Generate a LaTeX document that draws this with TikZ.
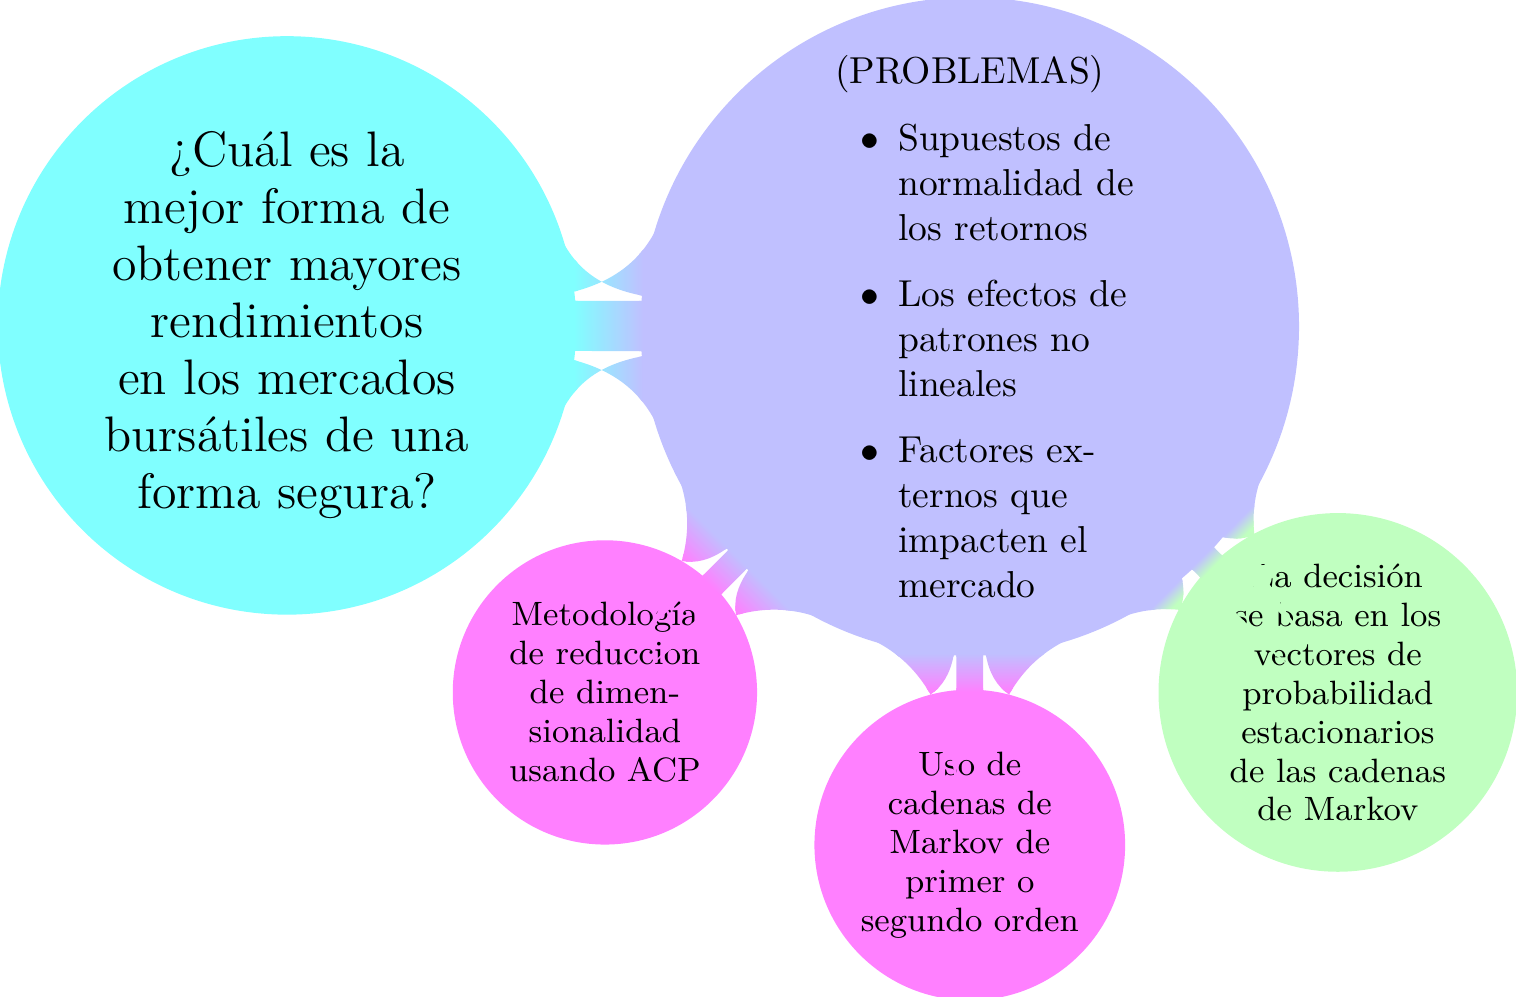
\documentclass[tikz,border=0pt]{standalone}
\usetikzlibrary{mindmap}

\definecolor{preguntacolor}{RGB}{128,255,255}
\definecolor{problemacolor}{RGB}{192,192,255}
\definecolor{metodocolor}{RGB}{255,128,255}
\definecolor{decisioncolor}{RGB}{192,255,192}
\renewcommand{\labelitemi}{$\bullet$}

\begin{document}
\begin{tikzpicture}[mindmap,
				every concept/.style={circle, inner sep=0pt, text=black},
				big concept/.style={concept, align=center, text width=3.6cm, font=\fontsize{13.3}{15.2}\selectfont},
				list concept/.style={concept, text width=3.1cm, font=\normalsize},
				small concept/.style={concept, align=center, text width={}, font=\fontsize{9}{10.4}\selectfont},
				bar/.style={line width=7.2pt}
				]
				\useasboundingbox (0,0) rectangle (14.21,-9.34);
				\node[big concept, concept color=preguntacolor, minimum size=5.38cm] (pregunta) at (2.69,-3.05)
					{¿Cuál es la\\mejor forma de\\obtener mayores\\rendimientos\\en los mercados\\bursátiles de una\\forma segura?};
				\node[list concept, concept color=problemacolor, minimum size=6.13cm] (problemas) at (9.09,-3.06)
					{{\centering (PROBLEMAS)\par}\vspace{-4pt}
					\begin{itemize}\setlength{\itemsep}{1.6pt}
						\item Supuestos de\\normalidad de\\los retornos
						\item Los efectos de\\patrones no\\lineales
						\item Factores ex-\\ternos que\\impacten el\\mercado
					\end{itemize}};
				\node[small concept, concept color=metodocolor, minimum size=2.81cm] (acp) at (5.67,-6.49)
					{Metodología\\de reduccion\\de dimen-\\sionalidad\\usando ACP};
				\node[small concept, concept color=metodocolor, minimum size=2.87cm] (markov) at (9.09,-7.92)
					{Uso de\\cadenas de\\Markov de\\primer o\\segundo orden};
				\node[small concept, concept color=decisioncolor, minimum size=3.32cm] (decision) at (12.54,-6.49)
					{La decisión\\se basa en los\\vectores de\\probabilidad\\estacionarios\\de las cadenas\\de Markov};
				\path (pregunta) to[circle connection bar switch color=from (preguntacolor) to (problemacolor), line width=13.9pt] (problemas);
				\path (problemas) to[circle connection bar switch color=from (problemacolor) to (metodocolor), bar] (acp);
				\path (problemas) to[circle connection bar switch color=from (problemacolor) to (metodocolor), bar] (markov);
				\path (problemas) to[circle connection bar switch color=from (problemacolor) to (decisioncolor), bar] (decision);
			\end{tikzpicture}
\end{document}
